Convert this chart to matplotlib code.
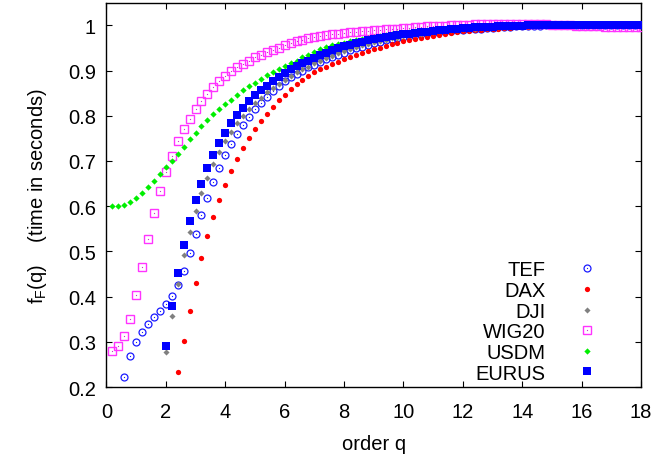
import numpy as np
import matplotlib
matplotlib.use("Agg")
import matplotlib.pyplot as plt
from matplotlib.ticker import FixedLocator, FuncFormatter

plt.rcParams['font.family'] = ['Liberation Sans', 'DejaVu Sans']
plt.rcParams['mathtext.fontset'] = 'custom'
plt.rcParams['mathtext.rm'] = 'Liberation Sans'
plt.rcParams['mathtext.it'] = 'Liberation Sans'

# order q is sampled every 0.2, each series from its own first order
STEP = 0.2

tef_start = 0.6
tef = [0.223, 0.269, 0.300, 0.322, 0.340, 0.355, 0.369, 0.384, 0.402, 0.425,
       0.457, 0.496, 0.538, 0.581, 0.618, 0.654, 0.685, 0.713, 0.738, 0.760,
       0.780, 0.798, 0.815, 0.829, 0.842, 0.855, 0.866, 0.876, 0.885, 0.893,
       0.900, 0.907, 0.913, 0.919, 0.925, 0.930, 0.935, 0.940, 0.945, 0.949,
       0.953, 0.957, 0.961, 0.964, 0.967, 0.970, 0.972, 0.975, 0.977, 0.979,
       0.981, 0.983, 0.984, 0.986, 0.987, 0.988, 0.989, 0.990, 0.991, 0.992,
       0.993, 0.994, 0.995, 0.996, 0.997, 0.997, 0.998, 0.998, 0.999, 0.999,
       0.999, 1.000, 1.000, 1.000, 1.000, 1.000, 1.000, 1.000, 1.000, 1.000,
       1.000, 1.000, 1.000, 1.000, 1.000, 1.000, 1.000, 1.000]

dax_start = 2.4
dax = [0.234, 0.302, 0.369, 0.430, 0.485, 0.533, 0.575, 0.613, 0.647, 0.677,
       0.704, 0.729, 0.750, 0.770, 0.788, 0.805, 0.820, 0.834, 0.847, 0.859,
       0.870, 0.879, 0.888, 0.896, 0.903, 0.909, 0.915, 0.920, 0.925, 0.930,
       0.935, 0.939, 0.943, 0.947, 0.951, 0.955, 0.959, 0.962, 0.965, 0.968,
       0.970, 0.973, 0.975, 0.977, 0.979, 0.981, 0.983, 0.985, 0.987, 0.988,
       0.989, 0.990, 0.991, 0.992, 0.993, 0.994, 0.995, 0.996, 0.997, 0.997,
       0.998, 0.998, 0.999, 0.999, 0.999, 1.000, 1.000, 1.000, 1.000, 1.000,
       1.000, 1.000, 1.000, 1.000, 1.000, 1.000, 1.000, 1.000, 1.000]

dji_start = 2.0
dji = [0.277, 0.358, 0.428, 0.491, 0.543, 0.589, 0.629, 0.663, 0.693, 0.721,
       0.744, 0.765, 0.783, 0.800, 0.815, 0.828, 0.840, 0.852, 0.862, 0.871,
       0.880, 0.888, 0.896, 0.903, 0.909, 0.916, 0.922, 0.928, 0.933, 0.938,
       0.943, 0.948, 0.952, 0.956, 0.959, 0.963, 0.966, 0.968, 0.971, 0.973,
       0.976, 0.978, 0.980, 0.982, 0.984, 0.985, 0.987, 0.988, 0.989, 0.990,
       0.991, 0.992, 0.993, 0.994, 0.995, 0.996, 0.997, 0.997, 0.998, 0.998,
       0.999, 0.999, 0.999, 1.000, 1.000, 1.000, 1.000, 1.000, 1.000, 1.000,
       1.000, 1.000, 1.000, 1.000, 1.000, 1.000, 1.000, 1.000, 1.000, 1.000,
       1.000]

wig20_start = 0.2
wig20 = [0.279, 0.290, 0.313, 0.350, 0.404, 0.466, 0.527, 0.585, 0.634, 0.676,
         0.712, 0.744, 0.771, 0.794, 0.815, 0.833, 0.849, 0.863, 0.877, 0.888,
         0.899, 0.907, 0.915, 0.922, 0.929, 0.935, 0.941, 0.946, 0.951, 0.956,
         0.961, 0.965, 0.968, 0.971, 0.974, 0.976, 0.978, 0.980, 0.982, 0.984,
         0.985, 0.986, 0.987, 0.988, 0.989, 0.990, 0.991, 0.992, 0.993, 0.994,
         0.995, 0.996, 0.997, 0.998, 0.998, 0.999, 0.999, 1.000, 1.000, 1.001,
         1.001, 1.002, 1.002, 1.003, 1.003, 1.003, 1.003, 1.003, 1.003, 1.003,
         1.003, 1.002, 1.002, 1.002, 1.001, 1.001, 1.000, 1.000, 0.999, 0.999,
         0.998, 0.998, 0.998, 0.997, 0.997, 0.997, 0.996, 0.996, 0.996, 0.996]

usdm_start = 0.2
usdm = [0.600, 0.600, 0.603, 0.610, 0.618, 0.629, 0.642, 0.656, 0.671, 0.686,
        0.701, 0.716, 0.732, 0.748, 0.762, 0.777, 0.791, 0.804, 0.815, 0.826,
        0.836, 0.846, 0.856, 0.865, 0.873, 0.881, 0.890, 0.897, 0.904, 0.910,
        0.916, 0.922, 0.929, 0.935, 0.941, 0.947, 0.952, 0.956, 0.959, 0.962,
        0.965, 0.968, 0.970, 0.972, 0.975, 0.977, 0.979, 0.981, 0.983, 0.984,
        0.986, 0.987, 0.988, 0.989, 0.990, 0.991, 0.992, 0.993, 0.994, 0.995,
        0.996, 0.996, 0.997, 0.997, 0.998, 0.998, 0.999, 0.999, 0.999, 1.000,
        1.000, 1.000, 1.000, 1.000, 1.000, 1.000, 1.000, 1.000, 1.000, 1.000,
        1.000, 1.000, 1.000, 1.000, 1.000, 1.000, 1.000, 1.000, 1.000, 1.000]

eurus_start = 2.0
eurus = [0.291, 0.380, 0.452, 0.514, 0.568, 0.613, 0.650, 0.685, 0.713, 0.739,
         0.762, 0.783, 0.802, 0.818, 0.832, 0.845, 0.857, 0.867, 0.877, 0.886,
         0.895, 0.903, 0.910, 0.916, 0.922, 0.928, 0.934, 0.940, 0.945, 0.950,
         0.954, 0.957, 0.961, 0.964, 0.967, 0.970, 0.972, 0.974, 0.976, 0.978,
         0.980, 0.982, 0.983, 0.985, 0.986, 0.988, 0.989, 0.990, 0.991, 0.992,
         0.994, 0.995, 0.996, 0.996, 0.997, 0.997, 0.998, 0.998, 0.999, 0.999,
         0.999, 1.000, 1.000, 1.000, 1.000, 1.000, 1.000, 1.000, 1.000, 1.000,
         1.000, 1.000, 1.000, 1.000, 1.000, 1.000, 1.000, 1.000, 1.000, 1.000,
         1.000]

x_ticks = [0, 2, 4, 6, 8, 10, 12, 14, 16, 18]
y_ticks = [0.2, 0.3, 0.4, 0.5, 0.6, 0.7, 0.8, 0.9, 1.0]


def orders(start, values):
    return np.round(start + STEP * np.arange(len(values)), 1)


FS = 14.5

fig = plt.figure(figsize=(6.52, 4.56), dpi=100)
ax = fig.add_axes([0.1633, 0.1491, 0.8198, 0.8426])

handles = []
labels = []

# open circles with a centre dot
h1 = ax.plot(orders(tef_start, tef), tef, linestyle='none', marker='o',
             markersize=5.0, markerfacecolor='none', markeredgecolor='#1a1aff',
             markeredgewidth=0.9, zorder=3)[0]
h1d = ax.plot(orders(tef_start, tef), tef, linestyle='none', marker='s',
              markersize=0.8, color='#1a1aff', markeredgewidth=0, zorder=3)[0]
handles.append((h1, h1d)); labels.append('TEF')

h2 = ax.plot(orders(dax_start, dax), dax, linestyle='none', marker='o',
             markersize=3.8, color='#ff0000', markeredgewidth=0, zorder=4)[0]
handles.append(h2); labels.append('DAX')

h3 = ax.plot(orders(dji_start, dji), dji, linestyle='none', marker='D',
             markersize=3.1, color='#808080', markeredgewidth=0, zorder=5)[0]
handles.append(h3); labels.append('DJI')

# open squares with a centre dot
h4 = ax.plot(orders(wig20_start, wig20), wig20, linestyle='none', marker='s',
             markersize=5.6, markerfacecolor='none', markeredgecolor='#ff33ff',
             markeredgewidth=1.0, zorder=6)[0]
h4d = ax.plot(orders(wig20_start, wig20), wig20, linestyle='none', marker='s',
              markersize=0.8, color='#cc33cc', markeredgewidth=0, zorder=6)[0]
handles.append((h4, h4d)); labels.append('WIG20')

h5 = ax.plot(orders(usdm_start, usdm), usdm, linestyle='none', marker='D',
             markersize=3.2, color='#00ee00', markeredgewidth=0, zorder=7)[0]
handles.append(h5); labels.append('USDM')

h6 = ax.plot(orders(eurus_start, eurus), eurus, linestyle='none', marker='s',
             markersize=5.6, color='#0000ff', markeredgewidth=0, zorder=8)[0]
handles.append(h6); labels.append('EURUS')

ax.set_xlim(0, 18)
ax.set_ylim(0.2, 1.05)
ax.xaxis.set_major_locator(FixedLocator(x_ticks))
ax.yaxis.set_major_locator(FixedLocator(y_ticks))
ax.yaxis.set_major_formatter(FuncFormatter(lambda v, p: f'{v:g}'))
ax.tick_params(which='both', direction='in', top=True, right=True,
               length=4, width=0.8, labelsize=FS, colors='black')
ax.tick_params(axis='x', pad=11)
ax.tick_params(axis='y', pad=7.5)
for sp in ax.spines.values():
    sp.set_linewidth(1.0)

ax.set_xlabel('order q', fontsize=FS, labelpad=9)
ax.set_ylabel(r'$\mathregular{f_F(q)}$    (time in seconds)', fontsize=FS,
              labelpad=14)

ax.legend(handles, labels, loc='lower right', bbox_to_anchor=(0.9177, 0.0117),
          frameon=False, markerfirst=False, fontsize=FS, handlelength=1.0,
          handletextpad=1.54, labelspacing=0.08, borderpad=0, borderaxespad=0,
          numpoints=1)

fig.savefig('out.png', dpi=100)
